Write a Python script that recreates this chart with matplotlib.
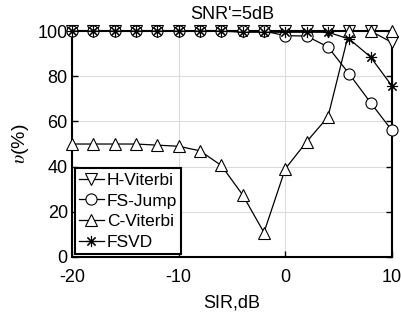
import numpy as np
import matplotlib
matplotlib.use('Agg')
import matplotlib.pyplot as plt

plt.rcParams['font.family'] = ['Liberation Sans', 'DejaVu Sans']
plt.rcParams['mathtext.fontset'] = 'stix'
plt.rcParams['axes.unicode_minus'] = False

sir = [-20, -18, -16, -14, -12, -10, -8, -6, -4, -2, 0, 2, 4, 6, 8, 10]

h_viterbi = [100, 100, 100, 100, 100, 100, 100, 100, 100, 100, 100, 100, 100, 100, 100, 95]
fs_jump   = [100, 100, 100, 100, 100, 100, 100, 100, 100, 100, 98, 97.8, 93, 81, 68.3, 56]
c_viterbi = [50, 50, 50, 50, 49.5, 49, 47, 40.5, 27.5, 10.8, 39, 51, 62, 100, 100, 100]
fsvd      = [100, 100, 100, 100, 100, 100, 100, 100, 99.5, 99.5, 99.5, 99.5, 99.5, 96.5, 88.5, 75.7]

series = [
    ('H-Viterbi', h_viterbi, 'v'),
    ('FS-Jump', fs_jump, 'o'),
    ('C-Viterbi', c_viterbi, '^'),
    ('FSVD', fsvd, (8, 2, 0)),
]

fig = plt.figure(figsize=(4.02, 3.24), dpi=100)
ax = fig.add_axes([0.179, 0.207, 0.796, 0.697])

for name, vals, mk in series:
    ax.plot(sir, vals, color='k', lw=0.9, marker=mk, ms=8,
            mfc='white', mec='k', mew=0.8, label=name,
            clip_on=False, zorder=3)

ax.set_xlim(-20, 10)
ax.set_ylim(0, 100)
ax.set_xticks([-20, -10, 0, 10])
ax.set_yticks([0, 20, 40, 60, 80, 100])
ax.grid(True, color='#dcdcdc', lw=0.8)
ax.tick_params(direction='in', top=True, right=True, labelsize=13, length=4, width=1)
ax.tick_params(axis='x', pad=9)
ax.tick_params(axis='y', pad=3)
for sp in ax.spines.values():
    sp.set_linewidth(1.5)

ax.set_title("SNR'=5dB", fontsize=13, pad=9)
ax.set_xlabel('SIR,dB', fontsize=13, labelpad=6)
ax.set_ylabel(r'$\upsilon$(%)', fontsize=14, labelpad=5)

leg = ax.legend(loc='lower left', fontsize=12.5, handlelength=1.45, handletextpad=0.15,
                borderpad=0.25, labelspacing=0.32, borderaxespad=0.15,
                fancybox=False, framealpha=1)
leg.get_frame().set_edgecolor('k')
leg.get_frame().set_linewidth(1.5)

fig.savefig('out.png', dpi=100)
